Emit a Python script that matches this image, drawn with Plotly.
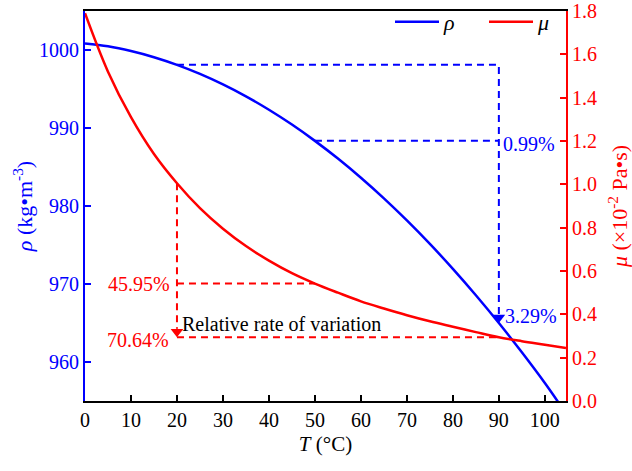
import plotly.graph_objects as go

# Data
T = [0, 5, 10, 15, 20, 25, 30, 35, 40, 45, 50, 55, 60, 65, 70, 75, 80, 85, 90, 95, 100, 104.6]
rho = [1000.85, 1000.48, 999.87, 999.08, 998.1, 996.94, 995.59, 994.06, 992.34, 990.44,
       988.35, 986.08, 983.62, 980.98, 978.15, 975.14, 971.94, 968.56, 965.0, 961.24,
       957.3, 953.4]
mu = [1.79, 1.52, 1.31, 1.14, 1.005, 0.89, 0.795, 0.715, 0.648, 0.59, 0.542, 0.50,
      0.46, 0.427, 0.396, 0.368, 0.343, 0.318, 0.294, 0.276, 0.26, 0.245]

ref_T = [20, 50, 90]
rho_labels = ["0.99%", "3.29%"]
mu_labels = ["45.95%", "70.64%"]
note_text = "Relative rate of variation"

x_ticks = list(range(0, 101, 10))
rho_ticks = [960, 970, 980, 990, 1000]
mu_ticks = [0.0, 0.2, 0.4, 0.6, 0.8, 1.0, 1.2, 1.4, 1.6, 1.8]

FONT = "'Liberation Serif', 'Times New Roman', serif"
BLUE = "#0000ff"
RED = "#ff0000"
TS = 20  # tick / label font size

i20, i50, i90 = (T.index(t) for t in ref_T)
t20, t50, t90 = ref_T

fig = go.Figure()

fig.add_trace(go.Scatter(x=T, y=rho, mode="lines", name="<i>ρ</i>",
                         line=dict(color=BLUE, width=2.5, shape="spline"), yaxis="y"))
fig.add_trace(go.Scatter(x=T, y=mu, mode="lines", name="<i>μ</i>",
                         line=dict(color=RED, width=2.5, shape="spline"), yaxis="y2"))

dash = "7px,5px"
# blue guide lines
fig.add_trace(go.Scatter(x=[t20, t90, t90], y=[rho[i20], rho[i20], rho[i90] + 1.0],
                         mode="lines", line=dict(color=BLUE, width=2, dash=dash),
                         showlegend=False, hoverinfo="skip", yaxis="y"))
fig.add_trace(go.Scatter(x=[t50, t90], y=[rho[i50], rho[i50]],
                         mode="lines", line=dict(color=BLUE, width=2, dash=dash),
                         showlegend=False, hoverinfo="skip", yaxis="y"))
# red guide lines
fig.add_trace(go.Scatter(x=[t20, t20], y=[mu[i20], mu[i90] + 0.04],
                         mode="lines", line=dict(color=RED, width=2, dash=dash),
                         showlegend=False, hoverinfo="skip", yaxis="y2"))
fig.add_trace(go.Scatter(x=[t20, t90], y=[mu[i90], mu[i90]],
                         mode="lines", line=dict(color=RED, width=2, dash=dash),
                         showlegend=False, hoverinfo="skip", yaxis="y2"))
fig.add_trace(go.Scatter(x=[t20, t50], y=[mu[i50], mu[i50]],
                         mode="lines", line=dict(color=RED, width=2, dash=dash),
                         showlegend=False, hoverinfo="skip", yaxis="y2"))
# arrow heads (triangle markers placed just above the arrow tips)
fig.add_trace(go.Scatter(x=[t90], y=[rho[i90] + 0.7], mode="markers",
                         marker=dict(symbol="triangle-down", size=11, color=BLUE),
                         showlegend=False, hoverinfo="skip", yaxis="y"))
fig.add_trace(go.Scatter(x=[t20], y=[mu[i90] + 0.026], mode="markers",
                         marker=dict(symbol="triangle-down", size=11, color=RED),
                         showlegend=False, hoverinfo="skip", yaxis="y2"))

ann = []
pf = dict(family=FONT, size=TS)
ann.append(dict(x=t90, y=rho[i50], xref="x", yref="y", text=rho_labels[0], showarrow=False,
                xanchor="left", yanchor="middle", xshift=2, yshift=-3, font=dict(pf, color=BLUE)))
ann.append(dict(x=t90, y=rho[i90], xref="x", yref="y", text=rho_labels[1], showarrow=False,
                xanchor="left", yanchor="middle", xshift=4, yshift=7, font=dict(pf, color=BLUE)))
ann.append(dict(x=t20, y=mu[i50], xref="x", yref="y2", text=mu_labels[0], showarrow=False,
                xanchor="right", yanchor="middle", xshift=-5, yshift=0, font=dict(pf, color=RED)))
ann.append(dict(x=t20, y=mu[i90], xref="x", yref="y2", text=mu_labels[1], showarrow=False,
                xanchor="right", yanchor="middle", xshift=-6, yshift=-3, font=dict(pf, color=RED)))
ann.append(dict(x=t20, y=mu[i90], xref="x", yref="y2", text=note_text, showarrow=False,
                xanchor="left", yanchor="middle", xshift=3, yshift=13,
                font=dict(family=FONT, size=TS, color="black")))

fig.update_layout(
    width=632, height=471,
    margin=dict(l=85, r=66, t=11, b=70, autoexpand=False),
    paper_bgcolor="white", plot_bgcolor="white",
    font=dict(family=FONT, size=TS, color="black"),
    annotations=ann,
    legend=dict(orientation="h", x=(390 - 85) / 481, xanchor="left", y=1.026, yanchor="top",
                bgcolor="rgba(0,0,0,0)", font=dict(family=FONT, size=22, color="black"),
                itemwidth=44, entrywidth=35),
    xaxis=dict(range=[0, 104.6], tickvals=x_ticks, ticks="inside", ticklen=6, tickwidth=1.5,
               tickcolor="black", showline=True, linecolor="black", linewidth=1.5, mirror=True,
               automargin=False,
               showgrid=False, zeroline=False, tickfont=dict(family=FONT, size=TS, color="black"),
               title=dict(text="<i>T</i> (°C)", font=dict(family=FONT, size=21, color="black"),
                          standoff=7)),
    yaxis=dict(range=[955, 1005], tickvals=rho_ticks, ticks="inside", ticklen=6, tickwidth=1.5,
               tickcolor=BLUE, showline=True, linecolor=BLUE, linewidth=2, automargin=False,
               showgrid=False, zeroline=False, tickfont=dict(family=FONT, size=TS, color=BLUE),
               title=dict(text="<i>ρ</i> (kg•m<sup>-3</sup>)",
                          font=dict(family=FONT, size=22, color=BLUE), standoff=0)),
    yaxis2=dict(range=[0, 1.8], tickvals=mu_ticks, tickformat=".1f", overlaying="y", side="right",
                ticks="inside", ticklen=6, tickwidth=1.5, tickcolor=RED, showline=True,
                linecolor=RED, linewidth=2, showgrid=False, zeroline=False, automargin=False,
                tickfont=dict(family=FONT, size=TS, color=RED),
                title=dict(text="<i>μ</i> (×10<sup>-2</sup> Pa•s)",
                           font=dict(family=FONT, size=22, color=RED), standoff=17)),
)

fig.write_html("out.html")
